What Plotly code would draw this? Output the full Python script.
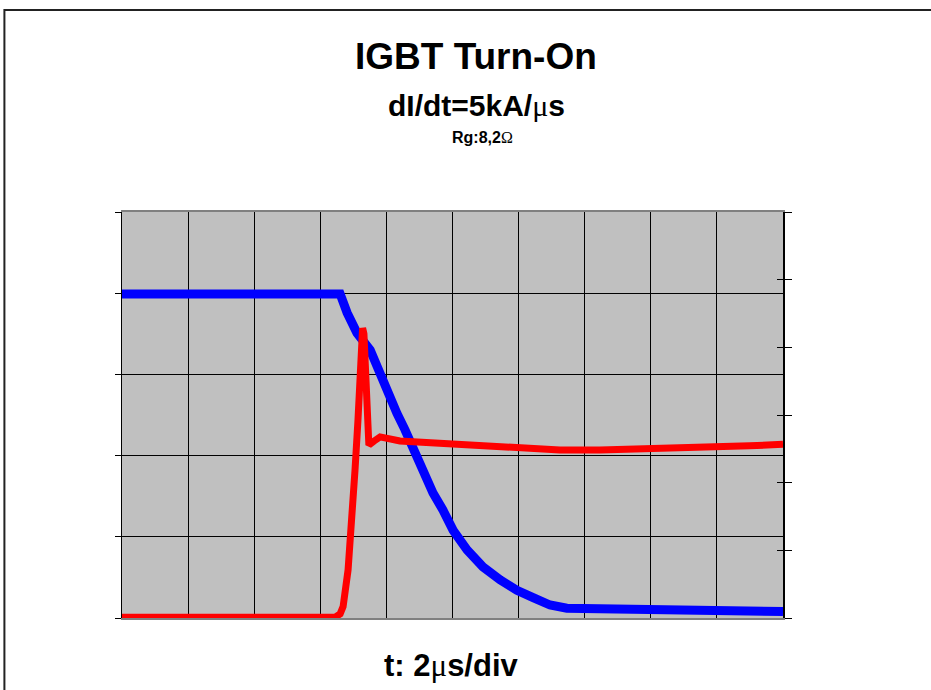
import plotly.graph_objects as go

# time in microseconds (2 us/div, 10 divisions); amplitude in divisions (left scale, 5 div)
t_vce = [0.0, 1.0, 2.4, 4.0, 5.5, 6.3, 6.6, 6.81, 7.11, 7.51, 7.72, 7.90, 8.11, 8.32, 8.56, 8.81,
         9.11, 9.41, 9.71, 10.02, 10.44, 10.92, 11.44, 11.95, 12.44, 12.95, 13.46, 14.46,
         15.97, 17.48, 18.99, 20.0]
v_vce = [3.99, 3.99, 3.99, 4.0, 3.99, 4.0, 3.99, 3.76, 3.51, 3.30, 3.09, 2.89, 2.68, 2.52, 2.32, 2.07,
         1.77, 1.54, 1.33, 1.08, 0.84, 0.63, 0.47, 0.34, 0.25, 0.16, 0.12, 0.11,
         0.10, 0.10, 0.09, 0.08]

t_ic = [0.0, 2.0, 4.0, 6.0, 6.45, 6.60, 6.69, 6.84, 6.96, 7.05, 7.14, 7.24, 7.28, 7.32, 7.40, 7.47,
        7.63, 7.81, 8.41, 10.02, 12.04, 13.25, 14.46, 15.97, 17.48, 18.99, 20.0]
v_ic = [0.01, 0.01, 0.01, 0.01, 0.01, 0.05, 0.14, 0.59, 1.21, 1.82, 2.44, 3.40, 3.57, 3.50, 2.80, 2.13,
        2.18, 2.23, 2.18, 2.14, 2.09, 2.07, 2.07, 2.08, 2.11, 2.12, 2.14]

MU = "<span style='font-family:Liberation Serif;font-weight:normal'>μ</span>"
OMEGA = "<span style='font-family:Liberation Serif;font-weight:normal'>Ω</span>"
title_text = "IGBT Turn-On"
subtitle_text = "dI/dt=5kA/" + MU + "s"
rg_text = "Rg:8,2" + OMEGA
xlabel_text = "t: 2" + MU + "s/div"

FONT = "Liberation Sans, Arial, sans-serif"

fig = go.Figure()
fig.add_trace(go.Scatter(x=t_vce, y=v_vce, mode="lines",
                         line=dict(color="#0000FF", width=9), showlegend=False))
fig.add_trace(go.Scatter(x=t_ic, y=v_ic, mode="lines",
                         line=dict(color="#FF0000", width=7), showlegend=False))
fig.add_trace(go.Scatter(x=[], y=[], yaxis="y2", showlegend=False))
fig.add_trace(go.Scatter(x=[], y=[], yaxis="y3", showlegend=False))

fig.update_layout(
    width=931, height=690,
    margin=dict(l=122, r=148, t=212, b=72),
    paper_bgcolor="white",
    plot_bgcolor="#C0C0C0",
    showlegend=False,
    xaxis=dict(range=[0, 20], dtick=2, tick0=0, showgrid=True, gridcolor="#000000", gridwidth=1,
               zeroline=False, showticklabels=False, ticks="",
               showline=True, linecolor="#808080", linewidth=2, mirror=True),
    yaxis=dict(range=[0, 5], dtick=1, tick0=0, showgrid=True, gridcolor="#000000", gridwidth=1,
               zeroline=False, showticklabels=False, ticks="outside", ticklen=6,
               tickcolor="#000000", tickwidth=1,
               showline=True, linecolor="#000000", linewidth=1),
    yaxis2=dict(range=[0, 6], dtick=1, tick0=0, overlaying="y", side="right", showgrid=False,
                zeroline=False, showticklabels=False, ticks="outside", ticklen=7,
                tickcolor="#000000", tickwidth=1,
                showline=True, linecolor="#000000", linewidth=2),
    yaxis3=dict(range=[0, 6], dtick=1, tick0=0, overlaying="y", side="right", showgrid=False,
                zeroline=False, showticklabels=False, ticks="inside", ticklen=6,
                tickcolor="#000000", tickwidth=1, showline=False),
)

fig.add_annotation(text="<b>" + title_text + "</b>", xref="paper", yref="paper",
                   x=0.5355, y=1.3818, showarrow=False, xanchor="center", yanchor="middle",
                   font=dict(family=FONT, size=37, color="black"))
fig.add_annotation(text="<b>" + subtitle_text + "</b>", xref="paper", yref="paper",
                   x=0.537, y=1.2611, showarrow=False, xanchor="center", yanchor="middle",
                   font=dict(family=FONT, size=30, color="black"))
fig.add_annotation(text="<b>" + rg_text + "</b>", xref="paper", yref="paper",
                   x=0.546, y=1.1823, showarrow=False, xanchor="center", yanchor="middle",
                   font=dict(family=FONT, size=16, color="black"))
fig.add_annotation(text="<b>" + xlabel_text + "</b>", xref="paper", yref="paper",
                   x=0.499, y=-0.1182, showarrow=False, xanchor="center", yanchor="middle",
                   font=dict(family=FONT, size=31, color="black"))

# outer frame of the picture
fig.add_shape(type="rect", xref="paper", yref="paper",
              x0=(4 - 121.7) / 661.6, x1=1.4, y0=-0.4, y1=(618 - 10) / 406,
              line=dict(color="#222222", width=2), fillcolor="rgba(0,0,0,0)", layer="below")

fig.write_html("out.html")
